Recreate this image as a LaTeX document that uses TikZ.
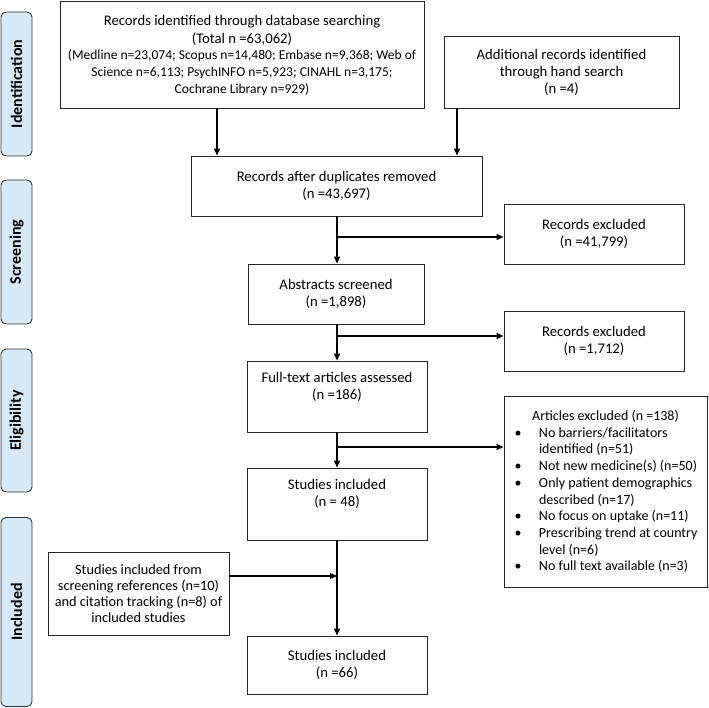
\documentclass[tikz,border=0pt]{standalone}
\usepackage{fontspec}
\setmainfont{Carlito}
\usetikzlibrary{arrows.meta}
\definecolor{sidefill}{HTML}{D7E8F7}
\definecolor{sidedraw}{HTML}{2E3440}
\begin{document}
\begin{tikzpicture}[x=1pt,y=-1pt,
 boxbase/.style={draw=black!85, line width=0.9pt, inner sep=0pt},
 box/.style={boxbase, align=center, font=\fontsize{14.7}{17}\selectfont},
 side/.style={draw=sidedraw, fill=sidefill, rounded corners=5pt, line width=0.9pt, inner sep=0pt, rotate=90, minimum height=31pt, font=\fontsize{16}{18}\selectfont\bfseries},
 arr/.style={line width=1.2pt, -{Triangle[length=7pt,width=6pt]}}]
\useasboundingbox (0,0) rectangle (709,708);
% side labels
\node[side, minimum width=144pt] (s1) at (16.5,84) {Identification};
\node[side, minimum width=144pt] (s2) at (16.5,252) {Screening};
\node[side, minimum width=143pt] (s3) at (16.5,420.5) {Eligibility};
\node[side, minimum width=189pt] (s4) at (16.5,612) {Included};
% boxes
\node[boxbase, minimum width=364pt, minimum height=107pt] (b1) at (242,54.5)
 {\parbox{360pt}{\centering
  \vspace*{2pt}\fontsize{14.7}{17.5}\selectfont Records identified through database searching\\(Total n =63,062)\par
  \fontsize{13.55}{16.8}\selectfont (Medline n=23,074; Scopus n=14,480; Embase n=9,368; Web of\\
  Science n=6,113; PsychINFO n=5,923; CINAHL n=3,175;\\
  Cochrane Library n=929)\par}};
\node[box, minimum width=235pt, minimum height=72pt] (b2) at (561.5,72)
 {Additional records identified\\through hand search\\(n =4)};
\node[box, minimum width=291pt, minimum height=60pt] (b3) at (336.5,186)
 {Records after duplicates removed\\(n =43,697)};
\node[box, minimum width=176pt, minimum height=60pt] (b4) at (336,294)
 {Abstracts screened\\(n =1,898)};
\node[box, minimum width=180pt, minimum height=60pt] (b5) at (594,234)
 {Records excluded\\(n =41,799)};
\node[box, minimum width=180pt, minimum height=71pt] (b6) at (337,396.5)
 {Full-text articles assessed\\(n =186)\\\strut};
\node[box, minimum width=180pt, minimum height=60pt] (b7) at (594,341)
 {Records excluded\\(n =1,712)};
\node[box, minimum width=180pt, minimum height=72pt] (b8) at (337,504)
 {Studies included\\(n = 48)\\\strut};
\node[boxbase, minimum width=203pt, minimum height=191pt] (b9) at (605.5,491.5)
 {\parbox{196pt}{\fontsize{14}{16.7}\selectfont
  \centering Articles excluded (n =138)\par
  \raggedright
  \def\itm#1{\hangindent=31.5pt\hangafter=1\noindent\hbox to 31.5pt{\hskip 7pt\textbullet\hfil}#1\par}
  \itm{No barriers/facilitators\newline identified (n=51)}
  \itm{Not new medicine(s) (n=50)}
  \itm{Only patient demographics\newline described (n=17)}
  \itm{No focus on uptake (n=11)}
  \itm{Prescribing trend at country\newline level (n=6)}
  \itm{No full text available (n=3)}}};
\node[box, minimum width=180pt, minimum height=58pt] (b10) at (337,665)
 {Studies included\\(n =66)};
\node[box, minimum width=181pt, minimum height=83pt, font=\fontsize{14.3}{16.2}\selectfont] (b11) at (138.5,593.5)
 {Studies included from\\screening references (n=10)\\and citation tracking (n=8) of\\included studies};
% connector helpers
\coordinate (c1) at (217,0);
\coordinate (c2) at (457,0);
\coordinate (m) at (337,0);
\coordinate (j1) at (337,237);
\coordinate (j2) at (337,336);
\coordinate (j3) at (337,447);
\coordinate (j4) at (337,576);
% connectors
\draw[arr] (b1.south -| c1) -- (b3.north -| c1);
\draw[arr] (b2.south -| c2) -- (b3.north -| c2);
\draw[arr] (b3.south -| m) -- (b4.north -| m);
\draw[arr] (b4.south -| m) -- (b6.north -| m);
\draw[arr] (b6.south -| m) -- (b8.north -| m);
\draw[arr] (b8.south -| m) -- (b10.north -| m);
\draw[arr] (j1) -- (j1 -| b5.west);
\draw[arr] (j2) -- (j2 -| b7.west);
\draw[arr] (j3) -- (j3 -| b9.west);
\draw[arr] (b11.east |- j4) -- (j4);
\end{tikzpicture}
\end{document}
